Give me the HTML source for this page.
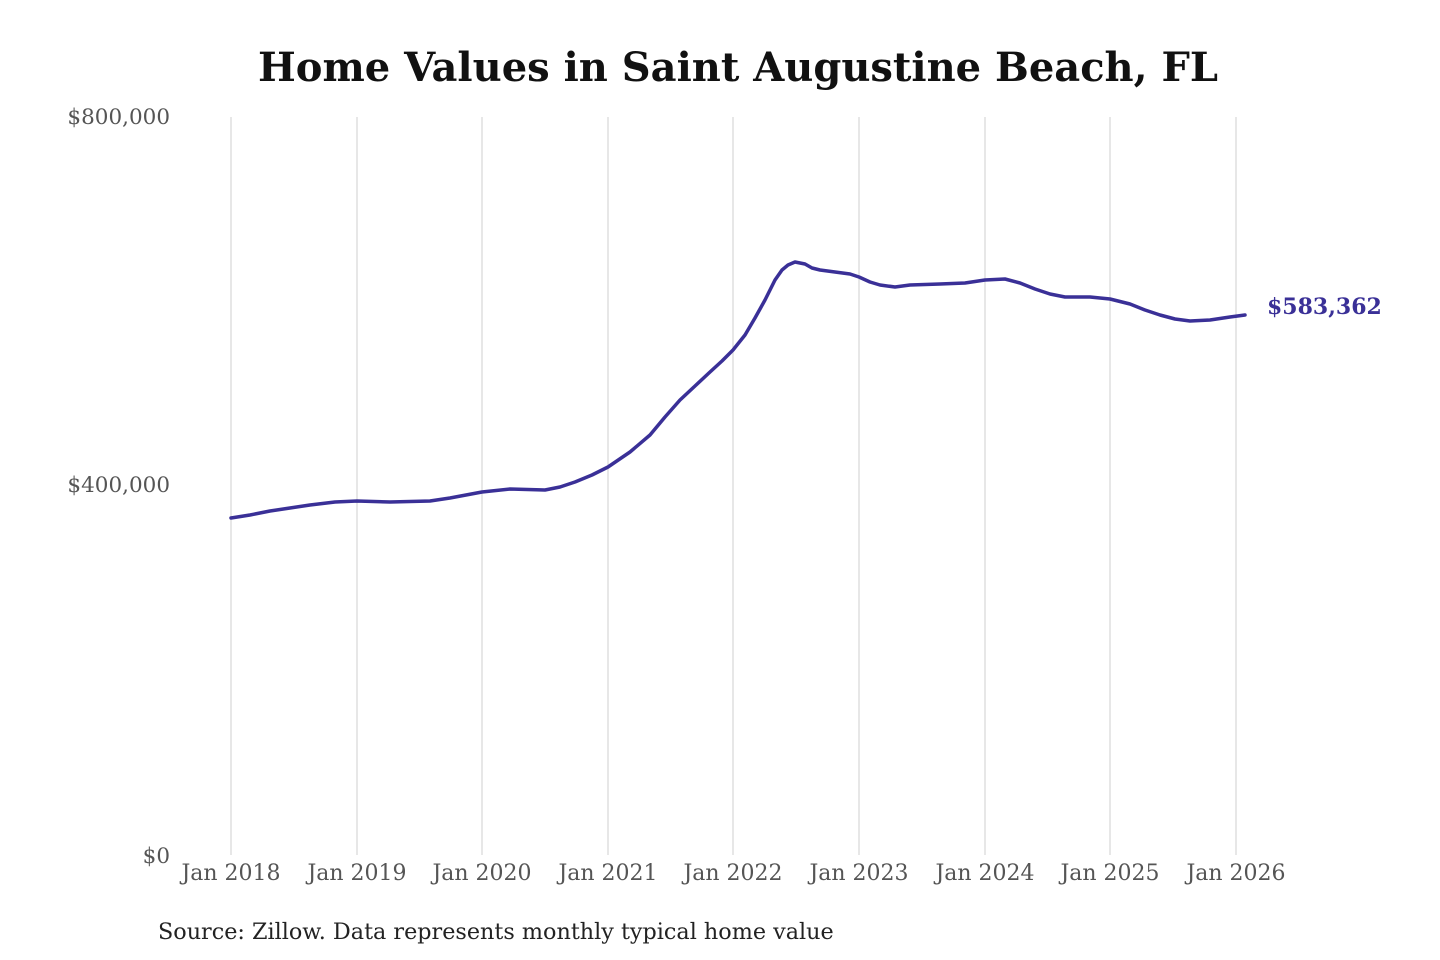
<!DOCTYPE html>
<html><head><meta charset="utf-8"><style>
html,body{margin:0;padding:0;background:#fff;}
svg{display:block}
</style></head><body>
<svg width="1440" height="960" xmlns="http://www.w3.org/2000/svg" font-family="'DejaVu Serif','Liberation Serif',serif">
<rect width="1440" height="960" fill="#fff"/>
<text x="738" y="81" text-anchor="middle" font-size="40" font-weight="bold" fill="#111" textLength="960" lengthAdjust="spacingAndGlyphs">Home Values in Saint Augustine Beach, FL</text>
<g stroke="#cfcfcf" stroke-width="1">
<line x1="231" y1="117" x2="231" y2="855"/><line x1="357" y1="117" x2="357" y2="855"/>
<line x1="482" y1="117" x2="482" y2="855"/><line x1="608" y1="117" x2="608" y2="855"/>
<line x1="733" y1="117" x2="733" y2="855"/><line x1="859" y1="117" x2="859" y2="855"/>
<line x1="985" y1="117" x2="985" y2="855"/><line x1="1110" y1="117" x2="1110" y2="855"/>
<line x1="1236" y1="117" x2="1236" y2="855"/>
</g>
<g font-size="21.5" fill="#555" text-anchor="end">
<text x="170" y="124">$800,000</text>
<text x="170" y="492">$400,000</text>
<text x="170" y="863">$0</text>
</g>
<g font-size="22" fill="#555" text-anchor="middle">
<text x="231" y="880">Jan 2018</text><text x="357" y="880">Jan 2019</text>
<text x="482" y="880">Jan 2020</text><text x="608" y="880">Jan 2021</text>
<text x="733" y="880">Jan 2022</text><text x="859" y="880">Jan 2023</text>
<text x="985" y="880">Jan 2024</text><text x="1110" y="880">Jan 2025</text>
<text x="1236" y="880">Jan 2026</text>
</g>
<polyline fill="none" stroke="#3a3097" stroke-width="3.5" stroke-linejoin="round" stroke-linecap="round"
points="231,518 250,515 270,511 290,508 310,505 335,502 357,501 390,502 430,501 450,498 482,492 510,489 545,490 560,487 575,482 592,475 608,467 630,452 650,435 665,417 680,400 695,386 710,372 722,361 733,350 745,335 755,318 765,300 775,280 782,270 788,265 795,262 805,264 812,268 820,270 835,272 850,274 859,277 870,282 880,285 895,287 910,285 940,284 965,283 985,280 1005,279 1020,283 1035,289 1050,294 1065,297 1090,297 1110,299 1130,304 1145,310 1160,315 1175,319 1190,321 1210,320 1230,317 1245,315"/>
<text x="1267" y="314" font-size="22" font-weight="bold" fill="#3a3097">$583,362</text>
<text x="158" y="939" font-size="22.3" fill="#222">Source: Zillow. Data represents monthly typical home value</text>
</svg>
</body></html>
